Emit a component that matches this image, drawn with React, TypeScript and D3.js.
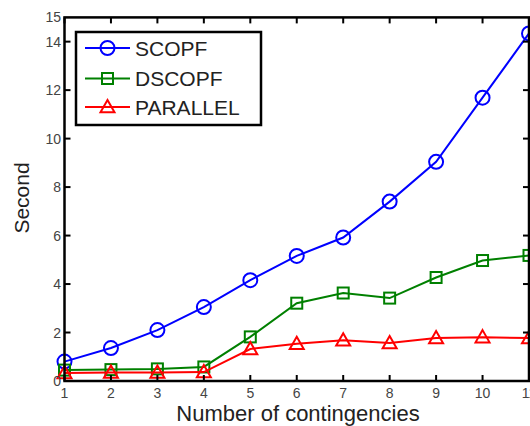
import React from "react";
import * as d3 from "d3";

const contingencies = [1, 2, 3, 4, 5, 6, 7, 8, 9, 10, 11];
const scopf = [0.8, 1.36, 2.1, 3.05, 4.16, 5.16, 5.92, 7.4, 9.04, 11.69, 14.34];
const dscopf = [0.45, 0.47, 0.5, 0.58, 1.82, 3.21, 3.63, 3.42, 4.27, 4.97, 5.18];
const parallel = [0.33, 0.35, 0.35, 0.37, 1.32, 1.54, 1.68, 1.57, 1.77, 1.81, 1.77];
const xTicks = [1, 2, 3, 4, 5, 6, 7, 8, 9, 10, 11];
const yTicks = [0, 2, 4, 6, 8, 10, 12, 14, 15];
const seriesNames = ["SCOPF", "DSCOPF", "PARALLEL"];

const W = 530;
const H = 426;
const FONT = "'Liberation Sans', Arial, sans-serif";

export default function App() {
  const x = d3.scaleLinear().domain([1, 11]).range([64.5, 529]);
  const y = d3.scaleLinear().domain([0, 15]).range([381, 17.4]);
  const left = x(1), right = x(11), top = y(15), bottom = y(0);

  const line = d3
    .line<number>()
    .x((_, i) => x(contingencies[i]))
    .y((d) => y(d));

  const series = [
    { name: seriesNames[0], data: scopf, color: "#0000ff", marker: "circle" },
    { name: seriesNames[1], data: dscopf, color: "#008000", marker: "square" },
    { name: seriesNames[2], data: parallel, color: "#ff0000", marker: "triangle" },
  ];

  const marker = (kind: string, cx: number, cy: number, color: string, key: any) => {
    if (kind === "circle")
      return <circle key={key} cx={cx} cy={cy} r={7} fill="none" stroke={color} strokeWidth={2} />;
    if (kind === "square")
      return <rect key={key} x={cx - 5.5} y={cy - 5.5} width={11} height={11} fill="none" stroke={color} strokeWidth={2} />;
    const s = 7;
    return (
      <path
        key={key}
        d={`M${cx},${cy - s} L${cx + s},${cy + s * 0.75} L${cx - s},${cy + s * 0.75} Z`}
        fill="none"
        stroke={color}
        strokeWidth={2}
      />
    );
  };

  const legendX = 76, legendY = 32, legendW = 185, legendH = 93;
  const legendRows = [48, 78.5, 107];

  return (
    <svg
      width={W}
      height={H}
      style={{ position: "absolute", left: 0, top: 0, background: "#fff" }}
      fontFamily={FONT}
    >
      <rect x={0} y={0} width={W} height={H} fill="#fff" />
      {series.map((s, si) => (
        <g key={si}>
          <path d={line(s.data) || ""} fill="none" stroke={s.color} strokeWidth={2} />
          {s.data.map((v, i) => marker(s.marker, x(contingencies[i]), y(v), s.color, i))}
        </g>
      ))}
      <rect x={left} y={top} width={right - left} height={bottom - top} fill="none" stroke="#000" strokeWidth={2.5} />
      {xTicks.map((t) => (
        <g key={"x" + t}>
          <line x1={x(t)} x2={x(t)} y1={bottom} y2={bottom - 6} stroke="#000" strokeWidth={2} />
          <line x1={x(t)} x2={x(t)} y1={top} y2={top + 6} stroke="#000" strokeWidth={2} />
          <text x={x(t)} y={398} textAnchor="middle" fontSize={14} fill="#444">
            {t}
          </text>
        </g>
      ))}
      {yTicks.map((t) => (
        <g key={"y" + t}>
          {t !== 15 && t !== 0 && (
            <>
              <line x1={left} x2={left + 6} y1={y(t)} y2={y(t)} stroke="#000" strokeWidth={2} />
              <line x1={right} x2={right - 6} y1={y(t)} y2={y(t)} stroke="#000" strokeWidth={2} />
            </>
          )}
          <text x={61} y={y(t) + 5} textAnchor="end" fontSize={14} fill="#444">
            {t}
          </text>
        </g>
      ))}
      <text x={298} y={421} textAnchor="middle" fontSize={22} fill="#222">
        Number of contingencies
      </text>
      <text
        transform={`translate(29,${198}) rotate(-90)`}
        textAnchor="middle"
        fontSize={21}
        fill="#222"
      >
        Second
      </text>
      <rect x={legendX} y={legendY} width={legendW} height={legendH} fill="#fff" stroke="#000" strokeWidth={2.5} />
      {series.map((s, i) => (
        <g key={"l" + i}>
          <line x1={85} x2={130} y1={legendRows[i]} y2={legendRows[i]} stroke={s.color} strokeWidth={2} />
          {marker(s.marker, 107.5, legendRows[i], s.color, "m")}
          <text x={135} y={legendRows[i] + 7.5} fontSize={21} fill="#222">
            {s.name}
          </text>
        </g>
      ))}
    </svg>
  );
}
